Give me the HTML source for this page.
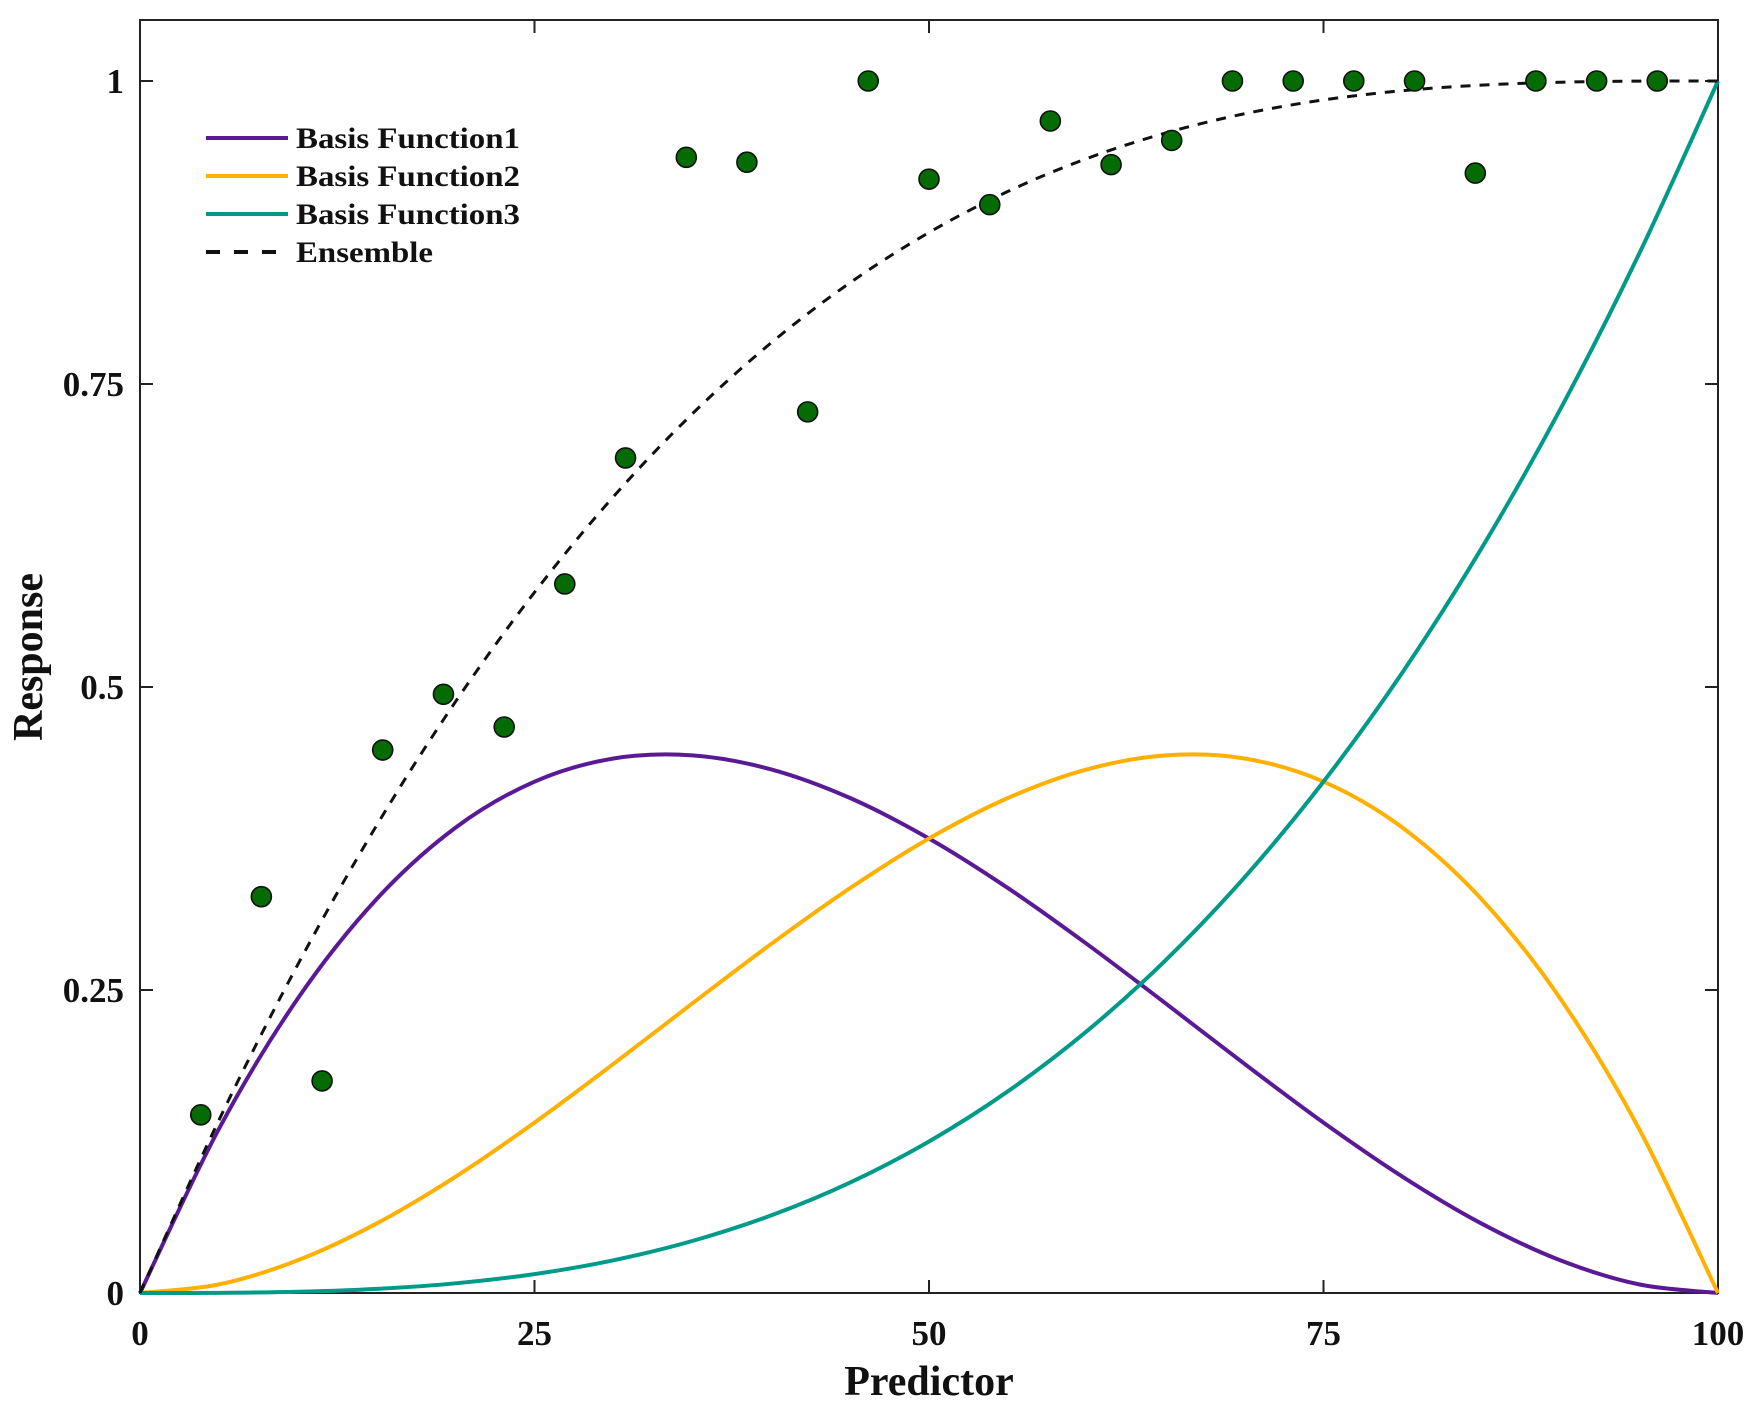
<!DOCTYPE html>
<html><head><meta charset="utf-8"><style>
html,body{margin:0;padding:0;background:#fff}
svg text{font-family:"Liberation Serif",serif;font-weight:bold;fill:#111}
</style></head><body>
<svg id="chart" width="1757" height="1410" viewBox="0 0 1757 1410"></svg>
<script>
const xs = [0,5,10,15,20,25,30,35,40,45,50,55,60,65,70,75,80,85,90,95,100];
const basis1 = [0,.1354,.243,.3251,.384,.4219,.441,.4436,.432,.4084,.375,.3341,.288,.2389,.189,.1406,.096,.0574,.027,.0071,0];
const basis2 = [0,.0071,.027,.0574,.096,.1406,.189,.2389,.288,.3341,.375,.4084,.432,.4436,.441,.4219,.384,.3251,.243,.1354,0];
const basis3 = [0,.000125,.001,.0034,.008,.0156,.027,.0429,.064,.0911,.125,.1664,.216,.2746,.343,.4219,.512,.6141,.729,.8574,1];
const ensemble = [0,.1426,.271,.3859,.488,.5781,.657,.7254,.784,.8336,.875,.9089,.936,.9571,.973,.9844,.992,.9966,.999,.9999,1];
const pointX = [3.85,7.69,11.54,15.38,19.23,23.08,26.92,30.77,34.62,38.46,42.31,46.15,50,53.85,57.69,61.54,65.38,69.23,73.08,76.92,80.77,84.62,88.46,92.31,96.15];
const pointY = [.147,.327,.175,.448,.494,.467,.585,.689,.937,.933,.727,1,.919,.898,.967,.931,.951,1,1,1,1,.924,1,1,1];
const xTicks = [0,25,50,75,100];
const xTickLabels = ["0","25","50","75","100"];
const yTicks = [0,.25,.5,.75,1];
const yTickLabels = ["0","0.25","0.5","0.75","1"];

const L=140,R=1718,T=20,B=1293;
const X=v=>L+(v/100)*(R-L);
const Y=v=>B-v*1212;
const svg=document.getElementById('chart');
const NS='http://www.w3.org/2000/svg';
function mk(tag,attrs){const e=document.createElementNS(NS,tag);for(const k in attrs)e.setAttribute(k,attrs[k]);svg.appendChild(e);return e;}
function pathFor(vals){
  const p=xs.map((x,i)=>[X(x),Y(vals[i])]);
  let d=`M${p[0][0]},${p[0][1]}`;
  for(let i=0;i<p.length-1;i++){
    const p0=p[Math.max(0,i-1)],p1=p[i],p2=p[i+1],p3=p[Math.min(p.length-1,i+2)];
    const c1=[p1[0]+(p2[0]-p0[0])/6,p1[1]+(p2[1]-p0[1])/6];
    const c2=[p2[0]-(p3[0]-p1[0])/6,p2[1]-(p3[1]-p1[1])/6];
    d+=` C${c1[0]},${c1[1]} ${c2[0]},${c2[1]} ${p2[0]},${p2[1]}`;
  }
  return d;
}
const fr=mk('rect',{x:L,y:T,width:R-L,height:B-T,fill:'none',stroke:'#222','stroke-width':2});


xTicks.forEach((t,i)=>{
  const a=mk('line',{x1:X(t),x2:X(t),y1:B,y2:B-13,stroke:'#222','stroke-width':2});
  
  
  const b=mk('line',{x1:X(t),x2:X(t),y1:T,y2:T+13,stroke:'#222','stroke-width':2});
  
  
  const tx=mk('text',{x:X(t),y:1345,'text-anchor':'middle','font-size':35});
  tx.textContent=xTickLabels[i];
  
  
});
yTicks.forEach((t,i)=>{
  const a=mk('line',{x1:L,x2:L+13,y1:Y(t),y2:Y(t),stroke:'#222','stroke-width':2});
  
  
  const b=mk('line',{x1:R,x2:R-13,y1:Y(t),y2:Y(t),stroke:'#222','stroke-width':2});
  
  
  const tx=mk('text',{x:124,y:Y(t)+12,'text-anchor':'end','font-size':35});
  tx.textContent=yTickLabels[i];
  
  
});
const xl=mk('text',{x:929,y:1395,'text-anchor':'middle','font-size':42});
xl.textContent='Predictor';


const yl=mk('text',{x:0,y:0,'text-anchor':'middle','font-size':42,transform:'translate(42,657) rotate(-90)'});
yl.textContent='Response';



const series=[[basis1,'#5a1a96','basis-function-1-line',''],[basis2,'#ffb000','basis-function-2-line',''],[basis3,'#009a88','basis-function-3-line',''],[ensemble,'#111','ensemble-line','10 9']];
series.forEach(s=>{
  const p=mk('path',{d:pathFor(s[0]),fill:'none',stroke:s[1],'stroke-width':s[3]?3:4});
  if(s[3])p.setAttribute('stroke-dasharray',s[3]);
  
  
});
pointX.forEach((x,i)=>{
  const c=mk('circle',{cx:X(x),cy:Y(pointY[i]),r:10,fill:'#056b05',stroke:'#111','stroke-width':1.6});
  
  
});
const leg=[['Basis Function1','#5a1a96','',224],['Basis Function2','#ffb000','',224],['Basis Function3','#009a88','',224],['Ensemble','#111','10 9',137]];
leg.forEach((l,i)=>{
  const y=138+i*38;
  const ln=mk('line',{x1:206,x2:288,y1:y,y2:y,stroke:l[1],'stroke-width':4});
  if(l[2])ln.setAttribute('stroke-dasharray','14 14');
  
  
  const t=mk('text',{x:296,y:y+10,'font-size':30,textLength:l[3],lengthAdjust:'spacingAndGlyphs'});
  t.textContent=l[0];
  
  
});
</script>
</body></html>
